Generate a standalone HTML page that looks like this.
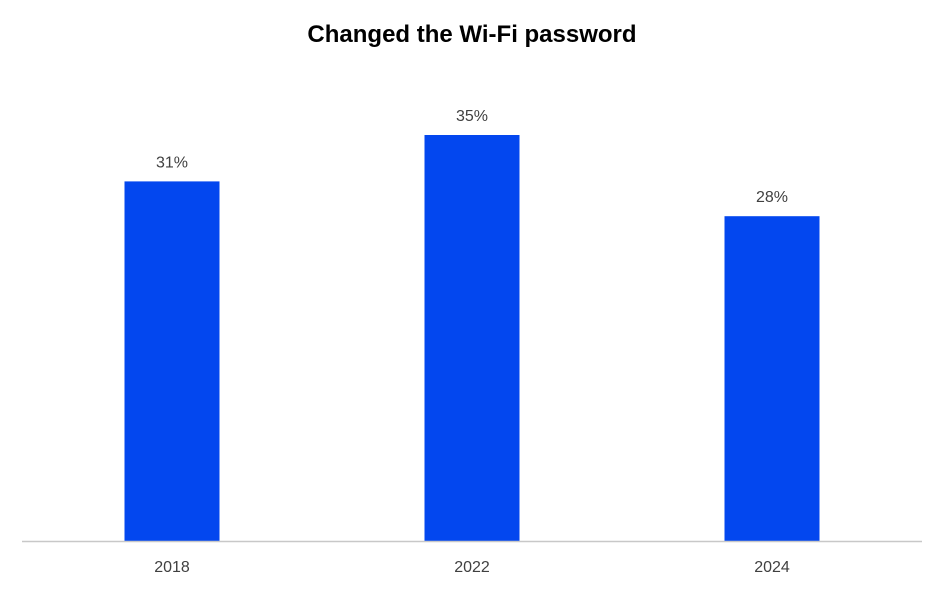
<!DOCTYPE html>
<html><head><meta charset="utf-8"><style>
body{margin:0;background:#fff;}
svg{display:block;font-family:"Liberation Sans",sans-serif;}
</style></head><body>
<svg id="chart" width="945" height="590">
<text x="472" y="42" text-anchor="middle" font-size="24" font-weight="bold" fill="#000">Changed the Wi-Fi password</text>
<g id="bars"></g>
<line x1="22" x2="922" y1="541.5" y2="541.5" stroke="#c8c8c8" stroke-width="1.5"/>
</svg>
<script>
const categories = ["2018","2022","2024"];
const values = [31,35,28];
const valueLabels = ["31%","35%","28%"];
const left=22, right=922, base=541, pxPer=11.6, barW=95;
const band=(right-left)/categories.length;
const xc=i=>left+band*(i+0.5);
const y=v=>base-v*pxPer;
const g=document.getElementById('bars');
const ns='http://www.w3.org/2000/svg';
categories.forEach((c,i)=>{
  const r=document.createElementNS(ns,'rect');
  r.setAttribute('x',xc(i)-barW/2);r.setAttribute('y',y(values[i]));
  r.setAttribute('width',barW);r.setAttribute('height',base-y(values[i]));
  r.setAttribute('fill','#0347ef');
  
  
  g.appendChild(r);
  const t=document.createElementNS(ns,'text');
  t.setAttribute('x',xc(i));t.setAttribute('y',y(values[i])-14);
  t.setAttribute('text-anchor','middle');t.setAttribute('font-size','16');t.setAttribute('fill','#404040');
  t.textContent=valueLabels[i];
  
  
  g.appendChild(t);
  const k=document.createElementNS(ns,'text');
  k.setAttribute('x',xc(i));k.setAttribute('y',572);
  k.setAttribute('text-anchor','middle');k.setAttribute('font-size','16');k.setAttribute('fill','#404040');
  k.textContent=c;
  
  
  g.appendChild(k);
});
</script>
</body></html>
